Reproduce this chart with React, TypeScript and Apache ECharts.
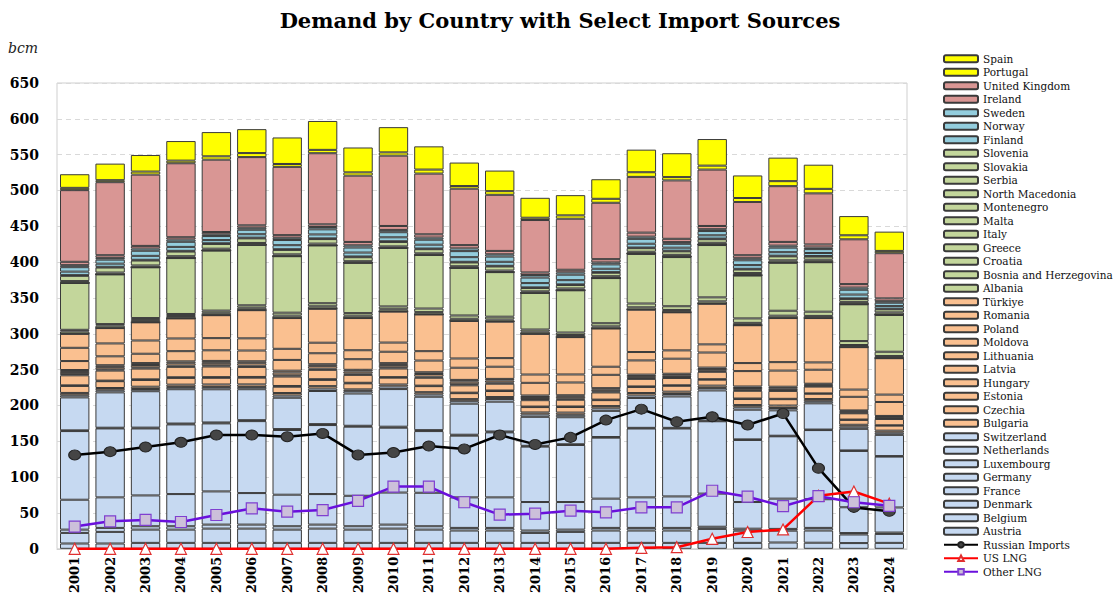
import React, { useEffect, useRef } from 'react';
import * as echarts from 'echarts';

const years = ['2001','2002','2003','2004','2005','2006','2007','2008','2009','2010','2011','2012','2013','2014','2015','2016','2017','2018','2019','2020','2021','2022','2023','2024'];
const yTicks = { min: 0, max: 650, interval: 50 };

// Blue group
const austria = [7.4,7.4,8.3,8.3,8.3,8.3,8.3,8.3,8.3,8.3,8.3,8.3,8.3,8.3,8.3,8.3,8.3,8.3,8.3,8.3,8.8,8.5,8.0,8.3];
const belgium = [14.8,16.2,18.5,18.5,19.9,19.9,18.5,19.9,18.5,19.9,18.5,17.2,17.2,13.9,15.3,17.2,17.2,17.2,19.5,17.0,16.5,17.0,12.0,12.5];
const denmark = [4.6,5.6,4.7,4.7,5.6,5.6,4.7,5.6,4.7,5.6,4.7,3.7,3.7,3.3,3.2,3.7,3.7,3.7,3.0,2.8,2.5,3.7,2.0,1.9];
const france = [41.7,42.6,43.0,44.9,46.3,44.0,44.0,42.6,42.5,44.7,46.7,42.6,42.6,39.8,38.5,40.8,42.6,43.9,46.2,37.2,42.2,40.0,36.0,35.0];
const germany = [95.8,96.2,93.5,97.2,94.9,100.4,90.3,96.3,96.4,90.5,86.1,86.1,90.7,77.3,79.6,85.1,96.1,94.8,101.0,86.6,87.0,96.5,78.6,71.0];
const luxembourg = [1.0,1.0,1.1,1.2,1.3,1.3,1.3,1.3,1.3,1.4,1.3,1.3,1.2,1.1,1.0,0.9,0.9,0.9,0.9,0.8,0.8,0.7,0.7,0.7];
const netherlands = [46.0,49.3,50.8,47.9,46.3,43.2,43.7,46.2,45.0,52.5,46.6,43.3,41.6,40.5,37.7,36.5,41.7,43.8,42.1,41.4,35.4,36.6,30.1,29.6];
const switzerland = [3.0,3.0,3.1,3.2,3.3,3.2,3.2,3.4,3.3,3.6,3.3,3.5,3.7,3.3,3.4,3.5,3.5,3.4,3.5,3.4,3.3,3.0,3.0,3.0];

// Orange group
const bulgaria = [3.2,3.1,3.2,3.2,3.4,3.5,3.4,3.4,2.5,2.8,3.1,2.9,2.8,2.8,3.1,3.2,3.4,3.3,3.2,3.1,3.4,3.0,2.7,2.9];
const czechia = [9.8,9.5,9.4,9.4,9.3,9.4,8.8,8.7,8.4,9.5,8.4,8.3,8.4,7.5,7.8,8.3,8.5,8.2,8.3,8.4,8.9,7.4,6.8,7.0];
const estonia = [0.8,0.8,0.9,0.9,1.0,1.0,1.0,1.0,0.8,0.8,0.7,0.7,0.7,0.7,0.7,0.7,0.7,0.7,0.7,0.7,0.5,0.5,0.5,0.5];
const hungary = [14.0,14.0,15.0,14.5,14.8,14.0,13.2,13.0,11.0,12.0,11.0,10.2,9.5,8.9,9.4,10.0,10.5,10.2,10.3,10.8,11.0,9.5,8.7,8.8];
const latvia = [1.7,1.7,1.7,1.7,1.7,1.7,1.7,1.7,1.7,1.7,1.6,1.6,1.6,1.6,1.4,1.4,1.4,1.4,1.4,1.3,1.2,1.0,1.0,1.0];
const lithuania = [3.0,3.1,3.3,3.3,3.4,3.5,3.8,3.5,2.9,3.3,3.6,3.5,2.9,2.8,2.7,2.4,2.5,2.4,2.4,2.6,2.6,1.8,1.8,2.0];
const moldova = [2.7,2.7,2.7,2.7,2.7,2.7,2.7,2.7,2.5,2.5,2.5,2.5,2.2,2.2,2.2,2.2,2.1,2.1,2.1,2.1,2.1,1.2,1.2,1.2];
const poland = [12.5,12.4,13.0,14.2,14.8,15.0,15.0,15.3,14.8,15.9,16.3,17.0,17.0,17.6,17.8,18.6,19.8,21.0,21.0,21.5,22.5,19.5,19.0,19.5];
const romania = [18.5,18.0,18.5,17.7,17.0,17.0,15.5,14.7,12.5,12.8,13.1,12.9,12.0,11.6,11.2,11.3,11.7,11.6,11.4,11.2,11.8,10.2,10.1,10.3];
const turkiye = [19.5,21.4,25.3,28.0,32.0,39.3,42.9,47.4,44.9,43.2,51.2,52.4,50.9,56.8,52.1,53.3,59.1,53.1,56.7,52.8,61.5,61.9,59.2,50.8];

// Green group
const albania = [0.1,0.1,0.1,0.1,0.1,0.1,0.1,0.1,0.1,0.1,0.1,0.1,0.1,0.1,0.1,0.1,0.1,0.1,0.1,0.1,0.1,0.1,0.1,0.1];
const bosnia = [0.3,0.3,0.3,0.3,0.3,0.3,0.3,0.3,0.2,0.2,0.2,0.2,0.2,0.2,0.2,0.2,0.2,0.2,0.2,0.2,0.2,0.2,0.2,0.2];
const croatia = [3.0,3.0,3.0,3.0,3.0,3.0,3.0,3.0,3.0,3.0,3.0,2.7,2.7,2.7,2.7,2.7,3.0,3.0,3.0,3.0,3.0,2.7,2.7,2.7];
const greece = [2.2,2.2,2.6,2.8,3.0,3.4,4.1,4.3,3.6,3.9,5.0,4.6,3.9,3.0,3.4,4.4,5.3,5.2,5.6,6.2,6.9,5.9,5.5,6.0];
const italy = [65.4,69.3,70.8,78.0,83.8,84.4,78.8,80.6,70.3,81.7,74.8,66.5,62.2,51.1,58.9,63.0,69.2,68.6,73.0,59.8,66.9,69.0,51.3,51.3];
const malta = [0,0,0,0,0,0,0,0,0,0,0,0,0,0,0,0,0.4,0.5,0.5,0.5,0.4,0.4,0.4,0.4];
const montenegro = [0,0,0,0,0,0,0,0,0,0,0,0,0,0,0,0,0,0,0,0,0,0,0,0];
const northMacedonia = [0.1,0.1,0.1,0.1,0.1,0.1,0.1,0.1,0.1,0.1,0.2,0.2,0.2,0.2,0.2,0.2,0.2,0.2,0.2,0.2,0.3,0.3,0.3,0.3];
const serbia = [2.5,2.5,2.5,2.5,2.5,2.5,2.5,2.5,2.0,2.0,2.0,2.0,2.0,2.0,2.4,2.4,2.4,2.4,2.4,2.8,2.8,2.8,2.7,2.9];
const slovakia = [7.3,7.0,6.9,6.5,6.6,6.4,6.2,6.3,5.6,6.2,5.8,5.3,5.7,4.6,4.8,4.8,5.0,4.9,5.0,5.0,5.5,4.4,4.1,4.3];
const slovenia = [1.0,1.0,1.0,1.0,1.0,1.0,1.0,1.0,1.0,1.0,0.9,0.9,0.9,0.9,0.9,0.9,0.9,0.9,0.9,0.9,0.95,0.8,0.8,0.8];

// Nordic group
const finland = [4.9,4.4,5.5,5.5,4.4,4.8,5.6,5.5,5.5,5.5,5.4,6.5,5.6,6.0,5.9,4.7,5.3,4.2,4.6,5.2,4.9,4.2,5.3,3.7];
const norway = [6.2,5.6,7.1,7.1,5.6,6.2,7.2,7.1,7.0,7.1,6.9,8.4,7.3,7.7,7.6,6.1,6.8,5.4,5.9,6.7,6.3,5.4,6.7,4.7];
const sweden = [2.8,2.5,3.1,3.1,2.5,2.8,3.1,3.2,3.1,3.2,3.0,3.8,3.2,3.5,3.3,2.7,3.1,2.4,2.6,2.9,2.8,2.3,3.0,2.1];

// Pink group
const ireland = [4.7,3.7,3.7,3.3,3.2,3.4,3.7,3.8,4.7,5.5,4.6,4.6,4.7,3.6,3.6,4.6,5.6,4.6,4.5,4.2,5.2,4.2,4.9,4.0];
const unitedKingdom = [100.0,101.9,99.5,103.2,100.9,95.2,95.3,99.2,92.5,98.1,84.7,78.7,78.3,73.2,71.2,78.7,77.8,81.5,78.7,74.3,77.8,71.3,62.5,63.0];

// Yellow group
const portugal = [3.2,2.8,4.2,3.7,4.7,5.6,4.0,4.7,4.6,4.6,5.6,3.7,5.1,3.2,4.7,5.5,6.5,4.6,5.5,5.5,7.0,6.3,5.6,3.2];
const spain = [19.0,23.1,23.1,27.3,33.8,33.4,37.0,40.3,34.7,35.2,32.4,32.8,28.7,27.8,28.2,27.3,31.5,33.3,37.1,31.5,32.8,33.7,26.8,26.9];

// Import lines
const russianImports = [131,135.6,142,148.6,158.8,158.8,156.5,161,131,134.3,143.5,139.4,158.8,145.7,155.5,179.6,194.9,177.3,184.3,172.7,188.9,112.5,57.8,52.3];
const usLng = [0,0,0,0,0,0,0,0,0,0,0,0,0,0,0,0,1.4,2.3,14,23.5,27,74,80,63];
const otherLng = [31,38.4,40.3,37.4,47.2,56.4,51.8,54.1,66.9,86.8,86.8,65,47.7,49,53.2,50.9,57.9,57.9,81,72.7,59.5,73.5,65,60];

const BLUE = '#C6D9F1';
const ORANGE = '#FAC090';
const GREEN = '#C3D69B';
const TEAL = '#93CDDD';
const PINK = '#D99694';
const YELLOW = '#FFFF00';

const barDefs: [string, number[], string][] = [
  ['Austria', austria, BLUE],
  ['Belgium', belgium, BLUE],
  ['Denmark', denmark, BLUE],
  ['France', france, BLUE],
  ['Germany', germany, BLUE],
  ['Luxembourg', luxembourg, BLUE],
  ['Netherlands', netherlands, BLUE],
  ['Switzerland', switzerland, BLUE],
  ['Bulgaria', bulgaria, ORANGE],
  ['Czechia', czechia, ORANGE],
  ['Estonia', estonia, ORANGE],
  ['Hungary', hungary, ORANGE],
  ['Latvia', latvia, ORANGE],
  ['Lithuania', lithuania, ORANGE],
  ['Moldova', moldova, ORANGE],
  ['Poland', poland, ORANGE],
  ['Romania', romania, ORANGE],
  ['Türkiye', turkiye, ORANGE],
  ['Albania', albania, GREEN],
  ['Bosnia and Herzegovina', bosnia, GREEN],
  ['Croatia', croatia, GREEN],
  ['Greece', greece, GREEN],
  ['Italy', italy, GREEN],
  ['Malta', malta, GREEN],
  ['Montenegro', montenegro, GREEN],
  ['North Macedonia', northMacedonia, GREEN],
  ['Serbia', serbia, GREEN],
  ['Slovakia', slovakia, GREEN],
  ['Slovenia', slovenia, GREEN],
  ['Finland', finland, TEAL],
  ['Norway', norway, TEAL],
  ['Sweden', sweden, TEAL],
  ['Ireland', ireland, PINK],
  ['United Kingdom', unitedKingdom, PINK],
  ['Portugal', portugal, YELLOW],
  ['Spain', spain, YELLOW],
];

const SERIF = 'DejaVu Serif';

export default function App() {
  const ref = useRef<HTMLDivElement>(null);
  useEffect(() => {
    if (!ref.current) return;
    const chart = echarts.init(ref.current, undefined, { renderer: 'svg' });
    const bars = barDefs.map(([name, data, color]) => ({
      name,
      type: 'bar',
      stack: 'demand',
      data,
      barCategoryGap: '17%',
      itemStyle: { color, borderColor: '#3a3a3a', borderWidth: 1 },
      emphasis: { disabled: true },
    }));
    const lines = [
      {
        name: 'Russian Imports', type: 'line', data: russianImports, z: 5,
        symbol: 'circle', symbolSize: [12, 10],
        lineStyle: { color: '#000000', width: 2.5 },
        itemStyle: { color: '#454545', borderColor: '#222222', borderWidth: 1 },
      },
      {
        name: 'US LNG', type: 'line', data: usLng, z: 5,
        symbol: 'triangle', symbolSize: 11,
        lineStyle: { color: '#FF0000', width: 2.5 },
        itemStyle: { color: '#FFFFFF', borderColor: '#E03030', borderWidth: 1.2 },
      },
      {
        name: 'Other LNG', type: 'line', data: otherLng, z: 6,
        symbol: 'rect', symbolSize: 11,
        lineStyle: { color: '#6A10DC', width: 2.5 },
        itemStyle: { color: '#CCC0DA', borderColor: '#7F3FD0', borderWidth: 1.2 },
      },
    ];
    const legendNames = barDefs.map((d) => d[0]).reverse().concat(['Russian Imports', 'US LNG', 'Other LNG']);
    chart.setOption({
      animation: false,
      title: {
        text: 'Demand by Country with Select Import Sources',
        left: 'center',
        top: 5,
        textStyle: { fontFamily: SERIF, fontWeight: 'bold', fontSize: 21, color: '#000' },
      },
      graphic: [
        {
          type: 'text', left: 8, top: 41,
          style: { text: 'bcm', font: 'italic 14px "DejaVu Serif"', fill: '#222' },
        },
      ],
      legend: {
        orient: 'vertical',
        left: 938,
        top: 47,
        itemWidth: 34,
        itemHeight: 7,
        itemGap: 0,
        selectedMode: false,
        data: legendNames,
        textStyle: { fontFamily: SERIF, fontSize: 10.5, color: '#111', lineHeight: 13.5 },
      },
      grid: {
        left: 57, right: 213, top: 83, bottom: 45,
        show: true, borderColor: '#cfcfcf', borderWidth: 1,
      },
      xAxis: {
        type: 'category',
        data: years,
        axisTick: { show: false },
        axisLine: { lineStyle: { color: '#cfcfcf' } },
        axisLabel: {
          rotate: 90, margin: 8, color: '#000',
          fontFamily: SERIF, fontWeight: 'bold', fontSize: 13,
        },
      },
      yAxis: {
        type: 'value',
        min: yTicks.min, max: yTicks.max, interval: yTicks.interval,
        axisLine: { show: false },
        axisTick: { show: false },
        splitLine: { lineStyle: { color: '#d9d9d9', type: [5, 4] } },
        axisLabel: { color: '#000', fontFamily: SERIF, fontWeight: 'bold', fontSize: 14, margin: 18 },
      },
      series: [...bars, ...lines],
    });
    return () => chart.dispose();
  }, []);
  return <div ref={ref} style={{ position: 'absolute', left: 0, top: 0, width: 1120, height: 596 }} />;
}
